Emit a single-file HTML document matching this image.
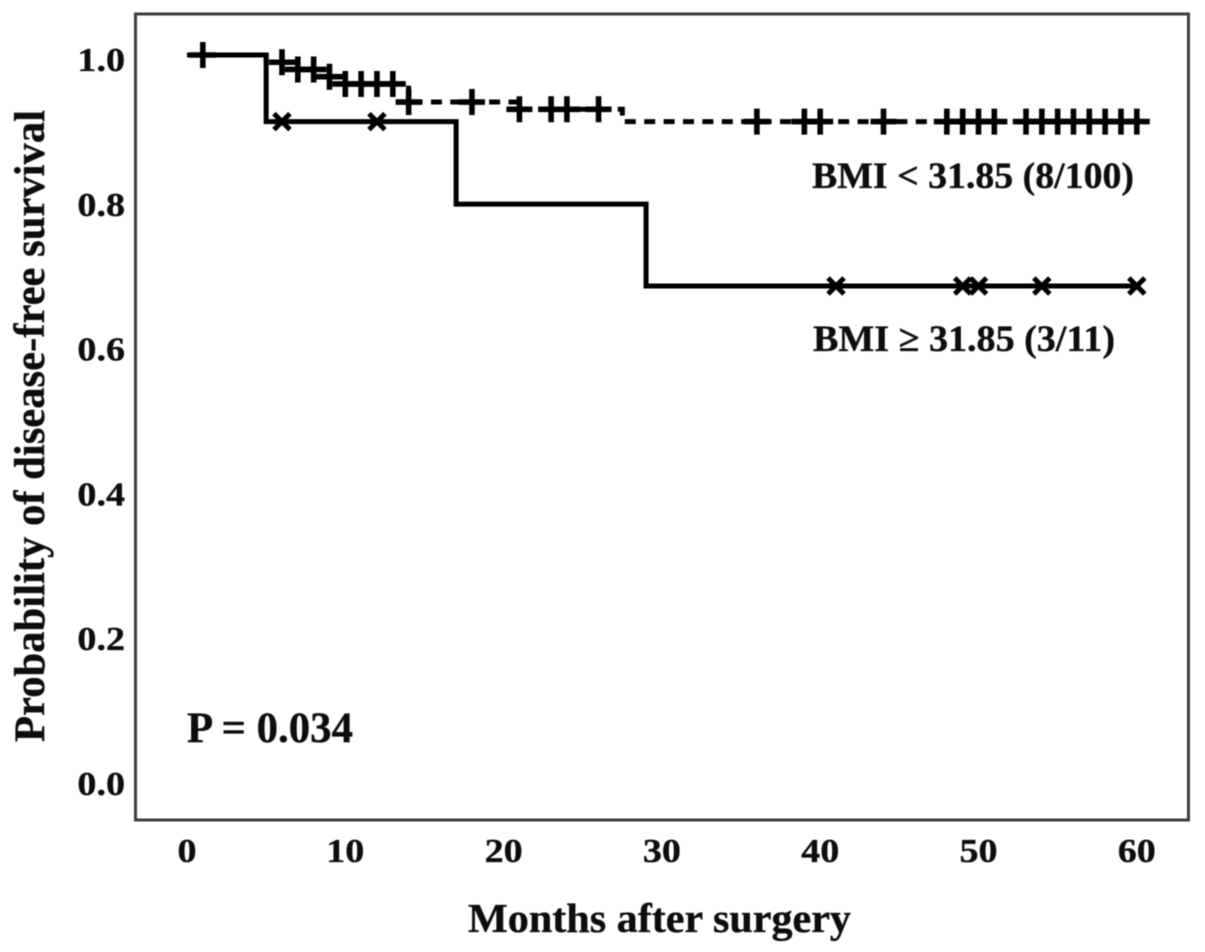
<!DOCTYPE html>
<html>
<head>
<meta charset="utf-8">
<title>Disease-free survival by BMI</title>
<style>
  html, body { margin: 0; padding: 0; background: #fff; }
  svg { display: block; }
  text { font-family: "Liberation Serif", "DejaVu Serif", serif; font-weight: bold; fill: #0c0c0c; stroke: #0c0c0c; stroke-width: 0.35px; }
</style>
</head>
<body>
<svg id="chart" xmlns="http://www.w3.org/2000/svg" width="1205" height="952" viewBox="0 0 1205 952">
  <defs><filter id="soft" x="-5%" y="-5%" width="110%" height="110%"><feGaussianBlur stdDeviation="0.6"/></filter></defs>
  <rect width="1205" height="952" fill="#fff"/>
  <g id="root" filter="url(#soft)">
    <rect x="135.5" y="14" width="1053" height="806" fill="none" stroke="#3c3c3c" stroke-width="3"/>
    <text transform="translate(44,742) rotate(-90)" font-size="43" textLength="632" lengthAdjust="spacingAndGlyphs">Probability of disease-free survival</text>
    <text x="468" y="932" font-size="41" textLength="383" lengthAdjust="spacingAndGlyphs">Months after surgery</text>
    <text x="187" y="742" font-size="43" textLength="166" lengthAdjust="spacingAndGlyphs">P = 0.034</text>
    <text x="812" y="188" font-size="37" textLength="322" lengthAdjust="spacingAndGlyphs">BMI &lt; 31.85 (8/100)</text>
    <text x="813" y="351" font-size="37" textLength="302" lengthAdjust="spacingAndGlyphs">BMI ≥ 31.85 (3/11)</text>
  </g>
</svg>
<script>
const xTicks = [0, 10, 20, 30, 40, 50, 60];
const yTicks = [0.0, 0.2, 0.4, 0.6, 0.8, 1.0];
const lowStepTimes = [0, 5, 7, 9, 10, 14, 21, 27.5, 60];
const lowStepSurvival = [1.0, 0.99, 0.98, 0.97, 0.96, 0.935, 0.925, 0.908, 0.908];
const lowCensorTimes = [1, 6, 7, 8, 9, 10, 11, 12, 13, 14, 18, 21, 23, 24, 26, 36, 39, 40, 44, 48, 49, 50, 51, 53, 54, 55, 56, 57, 58, 59, 60];
const highStepTimes = [0, 5, 17, 29, 60];
const highStepSurvival = [1.0, 0.908, 0.794, 0.681, 0.681];
const highCensorTimes = [6, 12, 41, 49, 50, 54, 60];

const NS = 'http://www.w3.org/2000/svg';
const root = document.getElementById('root');
const xScale = function (t) { return 187 + t * 15.83; };
const yScale = function (v) { return 779 - v * 724; };
const INK = '#000';

function make(tag, attrs, parent) {
  const el = document.createElementNS(NS, tag);
  Object.keys(attrs).forEach(function (k) { el.setAttribute(k, attrs[k]); });
  (parent || root).appendChild(el);
  return el;
}
function stepPath(times, values) {
  let d = 'M' + xScale(times[0]) + ' ' + yScale(values[0]);
  for (let i = 1; i < times.length; i++) {
    d += 'H' + xScale(times[i]) + 'V' + yScale(values[i]);
  }
  return d;
}
function stepValue(times, values, t) {
  let v = values[0];
  for (let i = 0; i < times.length; i++) {
    if (times[i] <= t) v = values[i];
  }
  return v;
}

xTicks.forEach(function (t) {
  const label = make('text', {
    transform: 'translate(' + xScale(t) + ',862) scale(1.12,1)',
    'font-size': 34,
    'text-anchor': 'middle'
  });
  
  
  label.textContent = String(t);
});
yTicks.forEach(function (v) {
  const label = make('text', {
    transform: 'translate(125,' + (yScale(v) + 16) + ') scale(1.12,1)',
    'font-size': 34,
    'text-anchor': 'end'
  });
  
  
  label.textContent = v.toFixed(1);
});

const lowLine = make('path', {
  d: stepPath(lowStepTimes, lowStepSurvival),
  fill: 'none', stroke: INK, 'stroke-width': 5, 'stroke-dasharray': '11 8.4'
});



const highLine = make('path', {
  d: stepPath(highStepTimes, highStepSurvival),
  fill: 'none', stroke: INK, 'stroke-width': 5
});



lowCensorTimes.forEach(function (t) {
  const cx = xScale(t);
  const cy = yScale(stepValue(lowStepTimes, lowStepSurvival, t));
  const mark = make('path', {
    d: 'M' + (cx - 13) + ' ' + cy + 'H' + (cx + 13) + 'M' + cx + ' ' + (cy - 13) + 'V' + (cy + 13),
    fill: 'none', stroke: INK, 'stroke-width': 5.6
  });
  
  
});
highCensorTimes.forEach(function (t) {
  const cx = xScale(t);
  const cy = yScale(stepValue(highStepTimes, highStepSurvival, t));
  const mark = make('path', {
    d: 'M' + (cx - 8) + ' ' + (cy - 8) + 'L' + (cx + 8) + ' ' + (cy + 8) + 'M' + (cx + 8) + ' ' + (cy - 8) + 'L' + (cx - 8) + ' ' + (cy + 8),
    fill: 'none', stroke: INK, 'stroke-width': 5
  });
  
  
});
</script>
</body>
</html>
